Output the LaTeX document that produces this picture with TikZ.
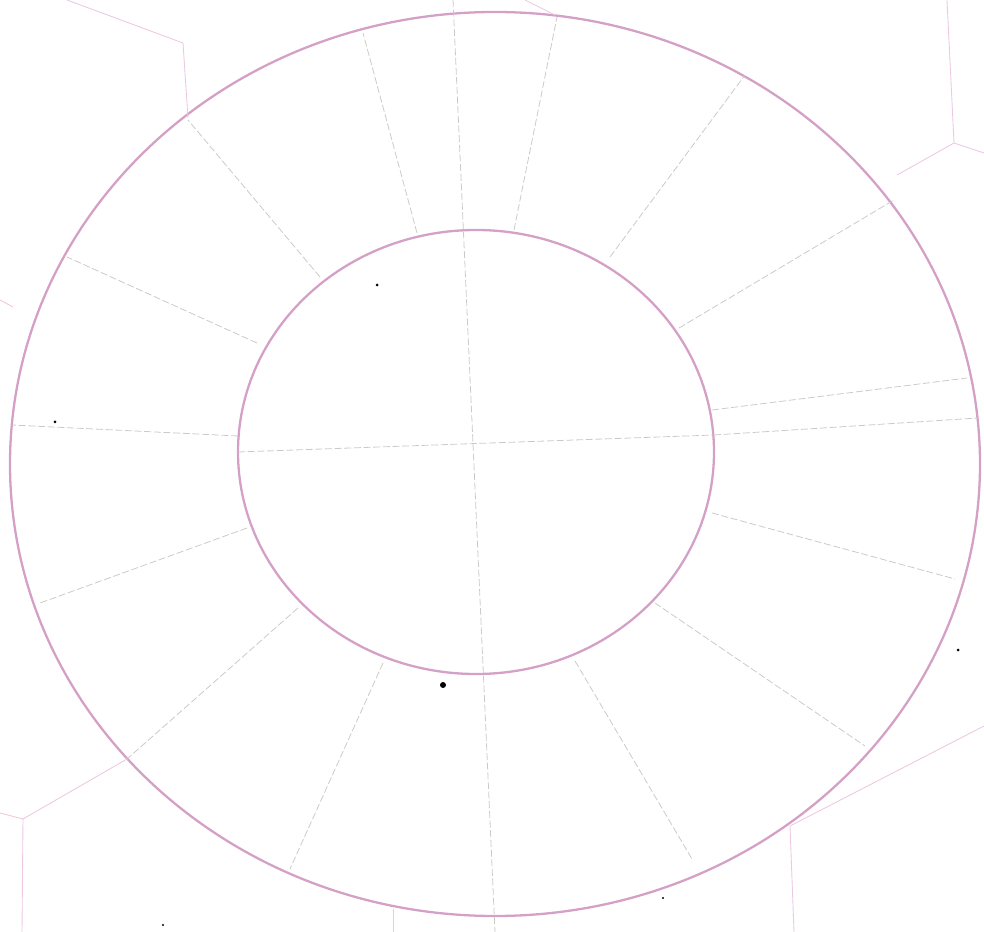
\documentclass[tikz,border=0pt]{standalone}
\definecolor{ringcol}{RGB}{212,160,198}
\definecolor{spokecol}{RGB}{200,204,196}
\definecolor{cellcol}{RGB}{236,200,226}
\begin{document}
\begin{tikzpicture}[x=0.02cm,y=-0.02cm,
  ring/.style={draw=ringcol, line width=1.3pt},
  spoke/.style={draw=spokecol, line width=0.45pt, dash pattern=on 4pt off 1.5pt},
  outer/.style={draw=cellcol, line width=0.5pt},
  speck/.style={fill=black}]
\useasboundingbox (0,0) rectangle (984,932);
% rings
\draw[ring] (495,464) ellipse [x radius=485, y radius=452];
\draw[ring] (476,452) ellipse [x radius=238, y radius=222];
% through lines
\coordinate (vt) at (453,0); \coordinate (vb) at (495,932);
\draw[spoke] (vt) -- (vb);
\coordinate (hl) at (238,452); \coordinate (hr) at (714,435);
\draw[spoke] (hl) -- (hr);
% spokes between rings
\draw[spoke] (417,233) -- (363,33);
\draw[spoke] (514,230) -- (557,17);
\draw[spoke] (610,257) -- (745,75);
\draw[spoke] (679,328) -- (894,200);
\draw[spoke] (712,410) -- (967,378);
\draw[spoke] (714,435) -- (978,418);
\draw[spoke] (712,513) -- (955,579);
\draw[spoke] (655,603) -- (865,746);
\draw[spoke] (575,661) -- (692,859);
\draw[spoke] (383,663) -- (290,869);
\draw[spoke] (298,608) -- (127,759);
\draw[spoke] (247,528) -- (40,603);
\draw[spoke] (238,436) -- (12,425);
\draw[spoke] (257,343) -- (67,257);
\draw[spoke] (320,277) -- (188,120);
% outer cells
\draw[outer] (67,0) -- (183,43) -- (188,118);
\draw[outer] (0,300) -- (13,307);
\draw[outer] (525,0) -- (555,15);
\draw[outer] (947,0) -- (954,143) -- (984,153);
\draw[outer] (954,143) -- (897,175);
\draw[outer] (0,813) -- (23,819) -- (22,932);
\draw[outer] (23,819) -- (127,759);
\draw[outer] (393,909) -- (393,932);
\draw[outer] (984,726) -- (790,826) -- (794,932);
% specks
\fill[speck] (377,285) circle (1.5);
\fill[speck] (55,422) circle (1.5);
\fill[speck] (443,685) circle (3);
\fill[speck] (958,650) circle (1.5);
\fill[speck] (663,898) circle (1.2);
\fill[speck] (163,925) circle (1.2);
\end{tikzpicture}
\end{document}
